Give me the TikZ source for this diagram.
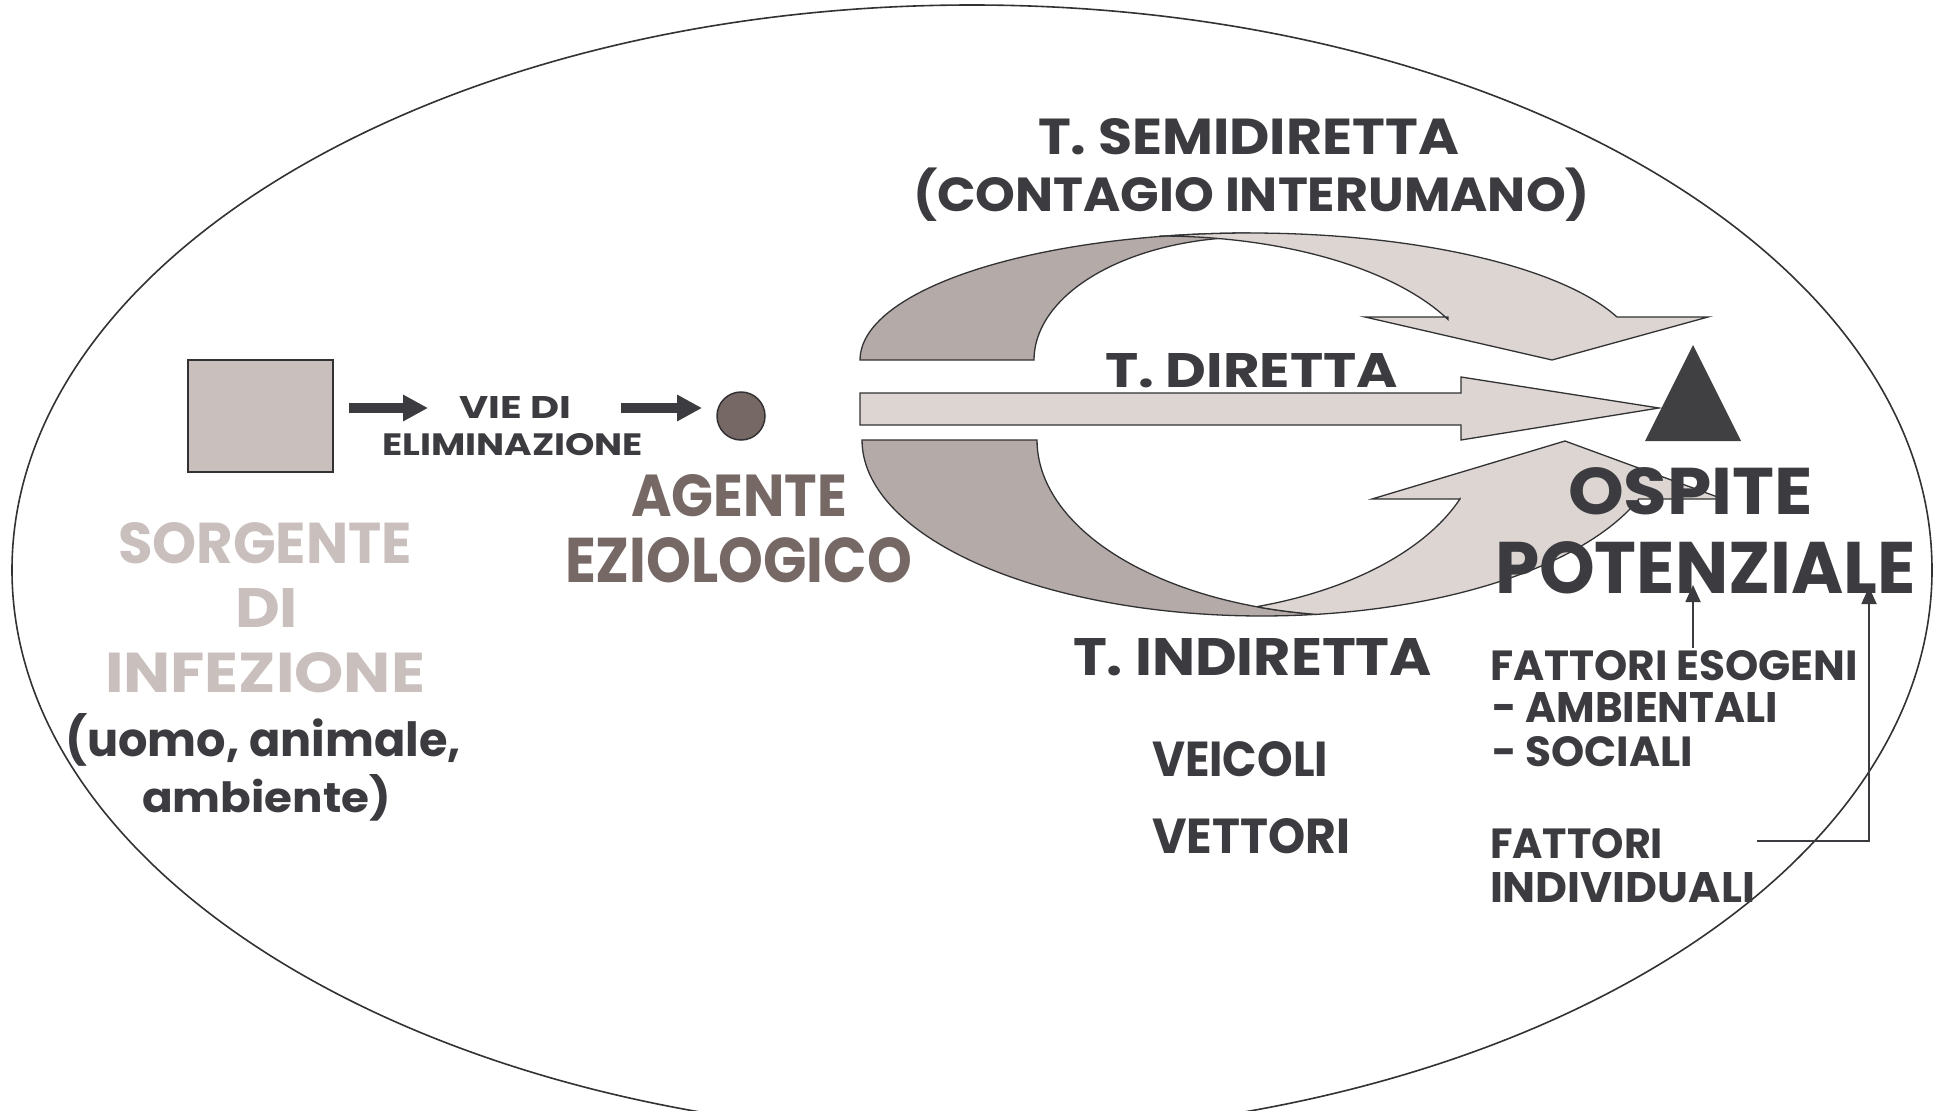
\documentclass[tikz,border=0pt]{standalone}
\usepackage{fontspec}
\setmainfont{Poppins}
\usetikzlibrary{arrows.meta}
\definecolor{txtdark}{RGB}{60,60,64}
\definecolor{srcgrey}{RGB}{201,191,188}
\definecolor{agentc}{RGB}{118,104,100}
\definecolor{banddark}{RGB}{180,170,167}
\definecolor{bandlight}{RGB}{220,213,210}
\definecolor{tric}{RGB}{64,64,66}
\definecolor{outl}{RGB}{50,50,52}
\newcommand\fitt[3]{\resizebox{#1pt}{#2pt}{#3}}
\newcommand\flatp[1]{\raisebox{0pt}[0pt][0pt]{#1}}
\begin{document}
\begin{tikzpicture}[x=1pt,y=-1pt,
  lbl/.style={inner sep=0, outer sep=0, anchor=base west, font=\bfseries\fontsize{48}{48}\selectfont, text=txtdark},
  band/.style={draw=outl, line width=1.3pt, line join=miter},
  fatarrow/.style={line width=10pt, draw=txtdark, -{Triangle[length=25pt,width=25pt]}},
  thinarrow/.style={line width=1.8pt, draw=txtdark, -{Triangle[length=17pt,width=15pt]}},
  linkline/.style={line width=1.8pt, draw=txtdark}]
\useasboundingbox (0,0) rectangle (1939,1111);
\fill[white] (0,0) rectangle (1939,1111);
% big ellipse
\draw[outl, line width=1.6pt] (972,570) ellipse [x radius=960, y radius=565];

% source square and agent circle
\node[draw=outl, line width=1.5pt, fill=srcgrey, minimum width=145pt, minimum height=112pt, inner sep=0] (src) at (260.5,416) {};
\node[circle, draw=outl, line width=1.5pt, fill=agentc, minimum size=48pt, inner sep=0] (agent) at (741,416) {};

% labels
\node[lbl] (vie) at (459,418) {\fitt{112}{22}{VIE DI}};
\node[lbl] (elim) at (382,455) {\fitt{261}{22}{ELIMINAZIONE}};
\coordinate (a1s) at (349,408);
\coordinate (a1e) at (428,408);
\coordinate (a2s) at (621,408);
\coordinate (a2e) at (702,408);
\draw[fatarrow] (a1s) -- (a1e);
\draw[fatarrow] (a2s) -- (a2e);

\node[lbl, text=srcgrey] (sorg) at (118,563) {\fitt{294}{41}{SORGENTE}};
\node[lbl, text=srcgrey] (di) at (235,627) {\fitt{63}{39}{DI}};
\node[lbl, text=srcgrey] (inf) at (105,692) {\fitt{320}{40}{INFEZIONE}};
\node[lbl] (uomo) at (65,756) {\fitt{396}{43}{(uomo, animale,}};
\node[lbl] (amb) at (142,812) {\fitt{249}{38}{ambiente)}};

\node[lbl, text=agentc] (agente) at (631,516) {\fitt{216}{42}{AGENTE}};
\node[lbl, text=agentc] (ezio) at (565,582) {\fitt{347}{45}{EZIOLOGICO}};

% upper band (semidiretta)
\filldraw[band, fill=banddark]
  plot[domain=180:270, samples=50] ({1250+390*cos(\x)}, {360+127*sin(\x)})
  -- plot[domain=270:180, samples=50] ({1252+218*cos(\x)}, {360+123*sin(\x)})
  -- cycle;
\filldraw[band, fill=bandlight]
  plot[domain=256.66:340.21, samples=60] ({1250+390*cos(\x)}, {360+127*sin(\x)})
  -- (1708,317) -- (1552,360) -- (1365,317) -- (1448,317)
  -- plot[domain=334.16:270, samples=50] ({1160+320*cos(\x)}, {384+148*sin(\x)})
  -- cycle;

% straight arrow (diretta)
\filldraw[band, fill=bandlight] (860,393) -- (1461,393) -- (1461,377) -- (1659,408)
  -- (1461,440) -- (1461,425) -- (860,425) -- cycle;

% lower band (indiretta)
\filldraw[band, fill=banddark]
  plot[domain=180:82.24, samples=60] ({1262+400*cos(\x)}, {440+176*sin(\x)})
  -- plot[domain=97.83:180, samples=50] ({1360+323*cos(\x)}, {440+176*sin(\x)})
  -- cycle;
\filldraw[band, fill=bandlight]
  plot[domain=108.41:97.83, samples=10] ({1360+323*cos(\x)}, {440+176*sin(\x)})
  -- plot[domain=82.24:19.58, samples=60] ({1262+400*cos(\x)}, {440+176*sin(\x)})
  -- (1723,499) -- (1565,441) -- (1372,499) -- (1460,499)
  -- plot[domain=20.36:72.17, samples=50] ({1160+320*cos(\x)}, {437+178*sin(\x)})
  -- cycle;

% host triangle
\fill[tric] (1693,345) -- (1741,441) -- (1645,441) -- cycle;

% transmission labels
\node[lbl] (semi) at (1038,154) {\fitt{421}{36}{T. SEMIDIRETTA}};
\node[lbl] (cont) at (913,211) {\fitt{677}{34}{\flatp{(}CONTAGIO INTERUMANO\flatp{)}}};
\node[lbl] (dir) at (1105,387) {\fitt{293}{34}{T. DIRETTA}};
\node[lbl] (indir) at (1073,675) {\fitt{359}{37}{T. INDIRETTA}};
\node[lbl] (veic) at (1152,776) {\fitt{176}{35}{VEICOLI}};
\node[lbl] (vett) at (1152,853) {\fitt{198}{35}{VETTORI}};

% host labels
\node[lbl] (osp) at (1568,514) {\fitt{245}{47}{OSPITE}};
\node[lbl] (pot) at (1495,593) {\fitt{421}{52}{POTENZIALE}};
\node[lbl] (fe) at (1490,680) {\fitt{368}{30}{FATTORI ESOGENI}};
\node[lbl] (amb2) at (1492,722) {\fitt{286}{30}{- AMBIENTALI}};
\node[lbl] (soc) at (1492,766) {\fitt{201}{30}{- SOCIALI}};
\node[lbl] (fi1) at (1490,858) {\fitt{173}{30}{FATTORI}};
\node[lbl] (fi2) at (1490,902) {\fitt{265}{30}{INDIVIDUALI}};

% factor arrows
\coordinate (feS) at (1693,648);
\coordinate (feE) at (1693,585);
\coordinate (fiS) at (1757,841);
\coordinate (fiC) at (1869,841);
\coordinate (fiE) at (1869,587);
\draw[thinarrow] (feS) -- (feE);
\draw[thinarrow] (fiS) -- (fiC) -- (fiE);
\end{tikzpicture}
\end{document}
